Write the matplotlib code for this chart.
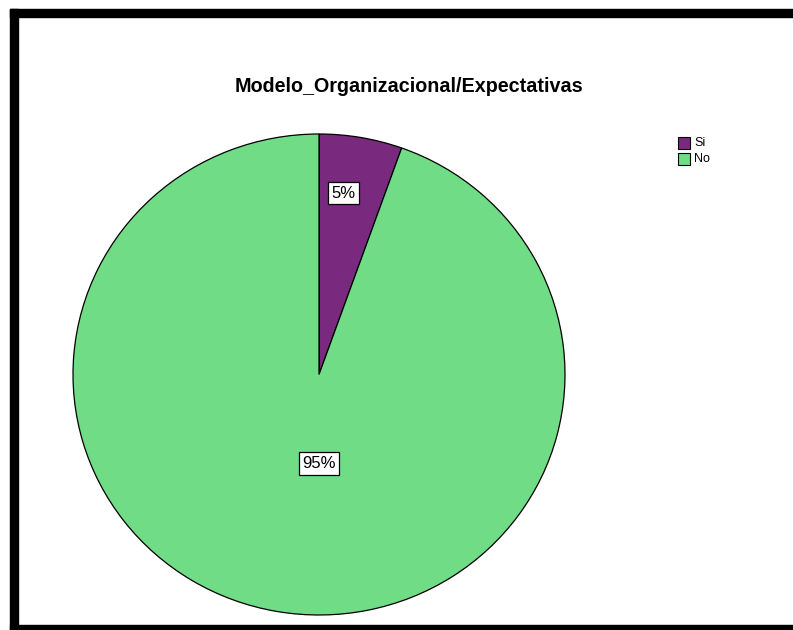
import matplotlib.pyplot as plt
from matplotlib.patches import Rectangle
import numpy as np

# Respuestas de la variable
categorias = ["Si", "No"]
conteos = [3, 52]
colores = ["#7a2a7e", "#70dc86"]

plt.rcParams['font.family'] = ['Liberation Sans', 'DejaVu Sans']

W, H = 793, 630
fig = plt.figure(figsize=(W / 100, H / 100), dpi=100)

def px_axes(x0, y0, x1, y1):
    # y measured from the top edge of the figure
    return fig.add_axes([x0 / W, 1 - y1 / H, (x1 - x0) / W, (y1 - y0) / H])

# thick black frame around the chart area
for (x0, y0, x1, y1) in [(10, 9, W, 17), (10, 9, 18, H), (10, 625, W, H)]:
    fig.patches.append(Rectangle((x0 / W, 1 - y1 / H), (x1 - x0) / W, (y1 - y0) / H,
                                 transform=fig.transFigure, color="black", zorder=10))

ax = px_axes(73, 134, 565, 615)
wedges, _ = ax.pie(conteos, colors=colores, startangle=90, counterclock=False,
                   wedgeprops=dict(edgecolor="black", linewidth=0.9))
ax.set_aspect("auto")
ax.set_xlim(-1, 1)
ax.set_ylim(-1, 1)

total = sum(conteos)
bbox = dict(boxstyle="square,pad=0.22", facecolor="white", edgecolor="black", linewidth=0.9)
dist = [0.76, 0.37]
for w, c, d in zip(wedges, conteos, dist):
    if c == max(conteos):
        # big slice: label straight below the centre
        x, y = 0, -d
    else:
        # small slice: a bit toward its start edge
        ang = np.deg2rad(w.theta2 + 0.38 * (w.theta1 - w.theta2))
        x, y = d * np.cos(ang), d * np.sin(ang)
    ax.text(x, y, "%.0f%%" % (100 * c / total), ha="center", va="center",
            fontsize=12, bbox=bbox)

fig.text(409 / W, 1 - 87 / H, "Modelo_Organizacional/Expectativas",
         ha="center", va="center", fontsize=14.2, fontweight="bold")

# legend
for i, (cat, col) in enumerate(zip(categorias, colores)):
    y0 = 137 + i * 16
    fig.patches.append(Rectangle((678 / W, 1 - (y0 + 12) / H), 12 / W, 12 / H,
                                 transform=fig.transFigure, facecolor=col,
                                 edgecolor="black", linewidth=0.8))
    fig.text(694 / W, 1 - (y0 + 6) / H, cat, ha="left", va="center", fontsize=9)

fig.savefig("out.png", dpi=100)
